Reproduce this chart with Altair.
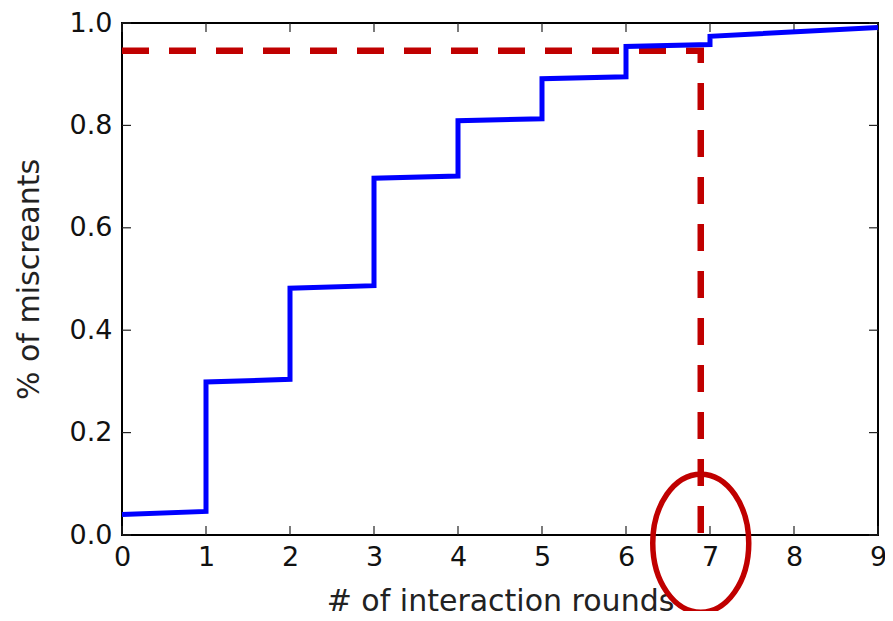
import altair as alt
import pandas as pd

# CDF of miscreants vs interaction rounds
rounds = [0, 1, 1, 2, 2, 3, 3, 4, 4, 5, 5, 6, 6, 7, 7, 9]
share = [0.040, 0.046, 0.299, 0.304, 0.482, 0.487, 0.697, 0.701,
         0.809, 0.813, 0.891, 0.895, 0.954, 0.958, 0.974, 0.991]

# 95% threshold guide
guide_x = [0, 6.89, 6.89]
guide_y = [0.946, 0.946, 0.0]

# highlight ellipse centre
mark_x = [6.89]
mark_y = [-0.016]

x_ticks = [0, 1, 2, 3, 4, 5, 6, 7, 8, 9]
y_ticks = [0.0, 0.2, 0.4, 0.6, 0.8, 1.0]

W, H = 756, 512
FONT = "DejaVu Sans"

cdf = pd.DataFrame({"x": rounds, "y": share, "o": list(range(len(rounds)))})
guide = pd.DataFrame({"x": guide_x, "y": guide_y, "o": list(range(len(guide_x)))})
ell = pd.DataFrame({"x": mark_x, "y": mark_y})
xt = pd.DataFrame({"x": x_ticks})
yt = pd.DataFrame({"y": y_ticks})

xs = alt.Scale(domain=[0, 9], nice=False, zero=False)
ys = alt.Scale(domain=[0, 1], nice=False, zero=False)

xaxis = alt.Axis(values=x_ticks, format="d", title="# of interaction rounds",
                 ticks=False, domain=False, grid=False, labelFlush=False,
                 labelOverlap=False, labelPadding=9, labelFontSize=27,
                 labelFont=FONT, labelColor="#111", titleFont=FONT,
                 titleFontSize=30, titleFontWeight="normal", titleColor="#222",
                 titlePadding=16)
yaxis = alt.Axis(values=y_ticks, format=".1f", title="% of miscreants",
                 ticks=False, domain=False, grid=False, labelFlush=False,
                 labelOverlap=False, labelPadding=10, labelFontSize=27,
                 labelFont=FONT, labelColor="#111", titleFont=FONT,
                 titleFontSize=30, titleFontWeight="normal", titleColor="#222",
                 titlePadding=25)

line = alt.Chart(cdf).mark_line(color="#0000ff", strokeWidth=5, strokeJoin="miter").encode(
    x=alt.X("x:Q", scale=xs, axis=xaxis),
    y=alt.Y("y:Q", scale=ys, axis=yaxis),
    order="o:Q",
)

dash = alt.Chart(guide).mark_line(color="#c00000", strokeWidth=6.5,
                                  strokeDash=[27, 20], strokeCap="butt").encode(
    x=alt.X("x:Q", scale=xs), y=alt.Y("y:Q", scale=ys), order="o:Q"
)

a = 0.6957
k = 0.5523
ka = k * a
ell_path = (f"M 0,-1 C {ka},-1 {a},-{k} {a},0 C {a},{k} {ka},1 0,1 "
            f"C -{ka},1 -{a},{k} -{a},0 C -{a},-{k} -{ka},-1 0,-1 Z")
ellipse = alt.Chart(ell).mark_point(shape=ell_path, size=138 * 138, filled=False,
                                    color="#c00000", strokeWidth=5.5, opacity=1,
                                    clip=False).encode(
    x=alt.X("x:Q", scale=xs), y=alt.Y("y:Q", scale=ys)
)

tick_style = dict(color="#222", strokeWidth=1.2)
xb = alt.Chart(xt).mark_rule(**tick_style).encode(
    x=alt.X("x:Q", scale=xs), y=alt.value(H), y2=alt.value(H - 9))
xtp = alt.Chart(xt).mark_rule(**tick_style).encode(
    x=alt.X("x:Q", scale=xs), y=alt.value(0), y2=alt.value(9))
yl = alt.Chart(yt).mark_rule(**tick_style).encode(
    y=alt.Y("y:Q", scale=ys), x=alt.value(0), x2=alt.value(9))
yr = alt.Chart(yt).mark_rule(**tick_style).encode(
    y=alt.Y("y:Q", scale=ys), x=alt.value(W), x2=alt.value(W - 9))

chart = alt.layer(xb, xtp, yl, yr, dash, line, ellipse).properties(
    width=W, height=H,
    autosize=alt.AutoSizeParams(type="none"),
    padding={"left": 114, "top": 15, "right": 7, "bottom": 76},
).configure(background="white").configure_view(stroke="black", strokeWidth=2)

chart.save("out.html", embed_options={"renderer": "svg", "actions": False})
